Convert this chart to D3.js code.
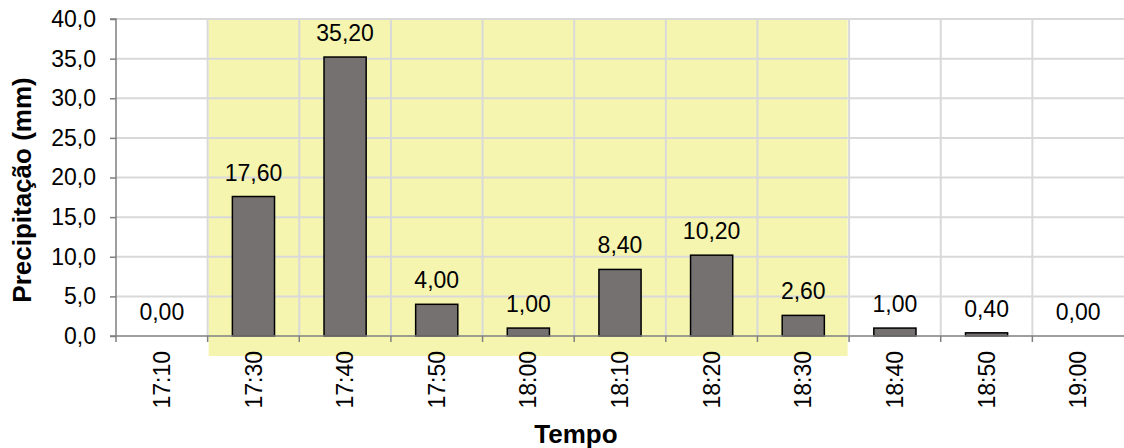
<!DOCTYPE html>
<html><head><meta charset="utf-8">
<script src="https://cdn.jsdelivr.net/npm/d3@7"></script>
<style>body{margin:0;background:#fff}svg{display:block}</style>
</head><body>
<script>
const categories = ["17:10","17:30","17:40","17:50","18:00","18:10","18:20","18:30","18:40","18:50","19:00"];
const values = [0.00,17.60,35.20,4.00,1.00,8.40,10.20,2.60,1.00,0.40,0.00];
const yTicks = [0,5,10,15,20,25,30,35,40];
const highlight = ["17:30","18:30"];

const W=1124,H=448;
const m={left:116,right:0,top:19,bottom:112};
const svg=d3.select("body").append("svg").attr("width",W).attr("height",H);
const x=d3.scaleBand().domain(categories).range([m.left,W-m.right]).padding(0);
const y=d3.scaleLinear().domain([0,40]).range([H-m.bottom,m.top]);
const font="Liberation Sans, Arial, sans-serif";
const fs=23;

// highlight band
const x0=x(highlight[0]), x1=x(highlight[1])+x.bandwidth();
svg.append("rect").attr("x",x0+1).attr("y",m.top+1).attr("width",x1-x0-2.5)
  .attr("height",356-(m.top+1)).attr("fill","#f5f5b0");

// gridlines
const grid=svg.append("g").attr("stroke","#d9d9d9").attr("stroke-width",2);
yTicks.filter(t=>t>0).forEach(t=>grid.append("line").attr("x1",m.left).attr("x2",W).attr("y1",y(t)).attr("y2",y(t)));
categories.slice(1).forEach(c=>grid.append("line").attr("x1",x(c)).attr("x2",x(c)).attr("y1",m.top).attr("y2",y(0)));

// bars
const bw=x.bandwidth()*0.46;
svg.append("g").selectAll("rect").data(values).join("rect")
  .attr("x",(d,i)=>x(categories[i])+(x.bandwidth()-bw)/2)
  .attr("y",d=>y(d)).attr("width",bw).attr("height",d=>y(0)-y(d))
  .attr("fill","#767171").attr("stroke","#000").attr("stroke-width",1.5)
  .attr("display",d=>d>0?null:"none");

// data labels
svg.append("g").selectAll("text").data(values).join("text")
  .attr("x",(d,i)=>x(categories[i])+x.bandwidth()/2)
  .attr("y",d=>y(d)-16).attr("text-anchor","middle")
  .attr("font-family",font).attr("font-size",fs).attr("fill","#000")
  .text(d=>d.toFixed(2).replace(".",","));

// y axis
const yAxis=d3.axisLeft(y).tickValues(yTicks).tickSize(6).tickPadding(14)
  .tickFormat(d=>d.toFixed(1).replace(".",","));
const gy=svg.append("g").attr("transform",`translate(${m.left},0)`).call(yAxis);
gy.select(".domain").attr("stroke","#7f7f7f").attr("stroke-width",1.5).attr("d",`M-6,${m.top}H0V${y(0)}`);
gy.selectAll(".tick line").attr("stroke","#7f7f7f").attr("stroke-width",1.5);
gy.selectAll(".tick text").attr("font-family",font).attr("font-size",fs).attr("fill","#000");

// x axis
const gx=svg.append("g").attr("transform",`translate(0,${y(0)})`);
gx.append("line").attr("x1",m.left-6).attr("x2",W).attr("stroke","#7f7f7f").attr("stroke-width",1.5);
const edges=categories.map(c=>x(c));
gx.selectAll("line.t").data(edges).join("line").attr("class","t")
  .attr("x1",d=>d).attr("x2",d=>d).attr("y1",0).attr("y2",6)
  .attr("stroke","#7f7f7f").attr("stroke-width",1.5);
gx.selectAll("text").data(categories).join("text")
  .attr("transform",c=>`translate(${x(c)+x.bandwidth()/2},15) rotate(-90)`)
  .attr("text-anchor","end").attr("dy","0.35em")
  .attr("font-family",font).attr("font-size",fs).attr("fill","#000").text(c=>c);

// titles
svg.append("text").attr("transform",`translate(31,190) rotate(-90)`)
  .attr("text-anchor","middle").attr("font-family",font).attr("font-size",26)
  .attr("font-weight","bold").text("Precipitação (mm)");
svg.append("text").attr("x",576).attr("y",443)
  .attr("text-anchor","middle").attr("font-family",font).attr("font-size",26)
  .attr("font-weight","bold").text("Tempo");
</script>
</body></html>
